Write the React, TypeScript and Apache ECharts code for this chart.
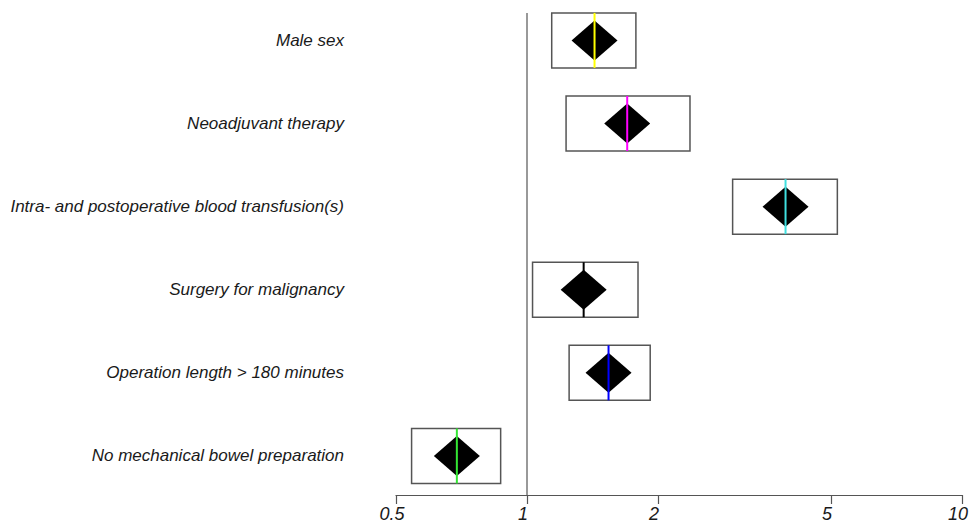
import React, { useEffect, useRef } from "react";
import * as echarts from "echarts";

const labels = [
  "Male sex",
  "Neoadjuvant therapy",
  "Intra- and postoperative blood transfusion(s)",
  "Surgery for malignancy",
  "Operation length > 180 minutes",
  "No mechanical bowel preparation",
];
const estimates = [1.43, 1.7, 3.93, 1.35, 1.54, 0.69];
const lower = [1.14, 1.23, 2.97, 1.03, 1.25, 0.543];
const upper = [1.78, 2.37, 5.17, 1.8, 1.92, 0.87];
const lineColors = ["#ffff00", "#ff00ff", "#40e0e0", "#000000", "#0000ff", "#33e633"];
const xTicks = [0.5, 1, 2, 5, 10];
const refValue = 1;

const FONT = "'Liberation Sans', Arial, sans-serif";

export default function App() {
  const ref = useRef<HTMLDivElement>(null);
  useEffect(() => {
    if (!ref.current) return;
    const chart = echarts.init(ref.current, null, { renderer: "svg" });
    const n = labels.length;
    const data = labels.map((_, i) => [
      n - 1 - i,
      Math.log10(lower[i]),
      Math.log10(estimates[i]),
      Math.log10(upper[i]),
      i,
    ]);
    const tickLogs = xTicks.map((t) => Math.log10(t));
    const fmtX = (v: number) => {
      const t = xTicks.find((tt) => Math.abs(Math.log10(tt) - v) < 1e-6);
      return t !== undefined ? String(t) : "";
    };
    chart.setOption({
      animation: false,
      backgroundColor: "#ffffff",
      grid: { left: 396, right: 7, top: 13, bottom: 30, containLabel: false },
      xAxis: {
        type: "value",
        min: Math.log10(0.5),
        max: 1,
        splitLine: { show: false },
        axisLine: { show: true, onZero: false, lineStyle: { color: "#555", width: 1.2 } },
        axisTick: {
          show: true,
          customValues: tickLogs,
          length: 9,
          lineStyle: { color: "#555", width: 1.2 },
        },
        axisLabel: {
          customValues: tickLogs,
          formatter: fmtX,
          fontFamily: FONT,
          fontStyle: "italic",
          fontSize: 18,
          color: "#1a1a1a",
          margin: 10,
          padding: [0, 8, 0, 0],
        },
      },
      yAxis: {
        type: "value",
        min: -0.47,
        max: 5.33,
        splitLine: { show: false },
        axisLine: { show: false },
        axisTick: { show: false },
        axisLabel: {
          customValues: labels.map((_, i) => i),
          formatter: (v: number) => labels[n - 1 - Math.round(v)] ?? "",
          fontFamily: FONT,
          fontStyle: "italic",
          fontSize: 17,
          color: "#1a1a1a",
          margin: 52,
        },
      },
      series: [
        {
          type: "custom",
          data,
          encode: { x: [1, 2, 3], y: 0 },
          renderItem: (params: any, api: any) => {
            const y = api.value(0);
            const idx = api.value(4);
            const p0 = api.coord([api.value(1), y]);
            const pe = api.coord([api.value(2), y]);
            const p1 = api.coord([api.value(3), y]);
            const hh = 27.5;
            const dw = 23;
            const dh = 20;
            return {
              type: "group",
              children: [
                {
                  type: "rect",
                  shape: { x: p0[0], y: p0[1] - hh, width: p1[0] - p0[0], height: hh * 2 },
                  style: { fill: "#ffffff", stroke: "#555555", lineWidth: 1.5 },
                },
                {
                  type: "polygon",
                  shape: {
                    points: [
                      [pe[0] - dw, pe[1]],
                      [pe[0], pe[1] - dh],
                      [pe[0] + dw, pe[1]],
                      [pe[0], pe[1] + dh],
                    ],
                  },
                  style: { fill: "#000000" },
                },
                {
                  type: "line",
                  shape: { x1: pe[0], y1: pe[1] - hh, x2: pe[0], y2: pe[1] + hh },
                  style: { stroke: lineColors[idx], lineWidth: 2 },
                },
              ],
            };
          },
          markLine: {
            silent: true,
            symbol: "none",
            label: { show: false },
            lineStyle: { color: "#777777", width: 1.5, type: "solid" },
            data: [{ xAxis: Math.log10(refValue) }],
          },
        },
      ],
    });
    return () => chart.dispose();
  }, []);
  return (
    <div
      ref={ref}
      style={{ position: "fixed", left: 0, top: 0, width: 971, height: 525 }}
    />
  );
}
